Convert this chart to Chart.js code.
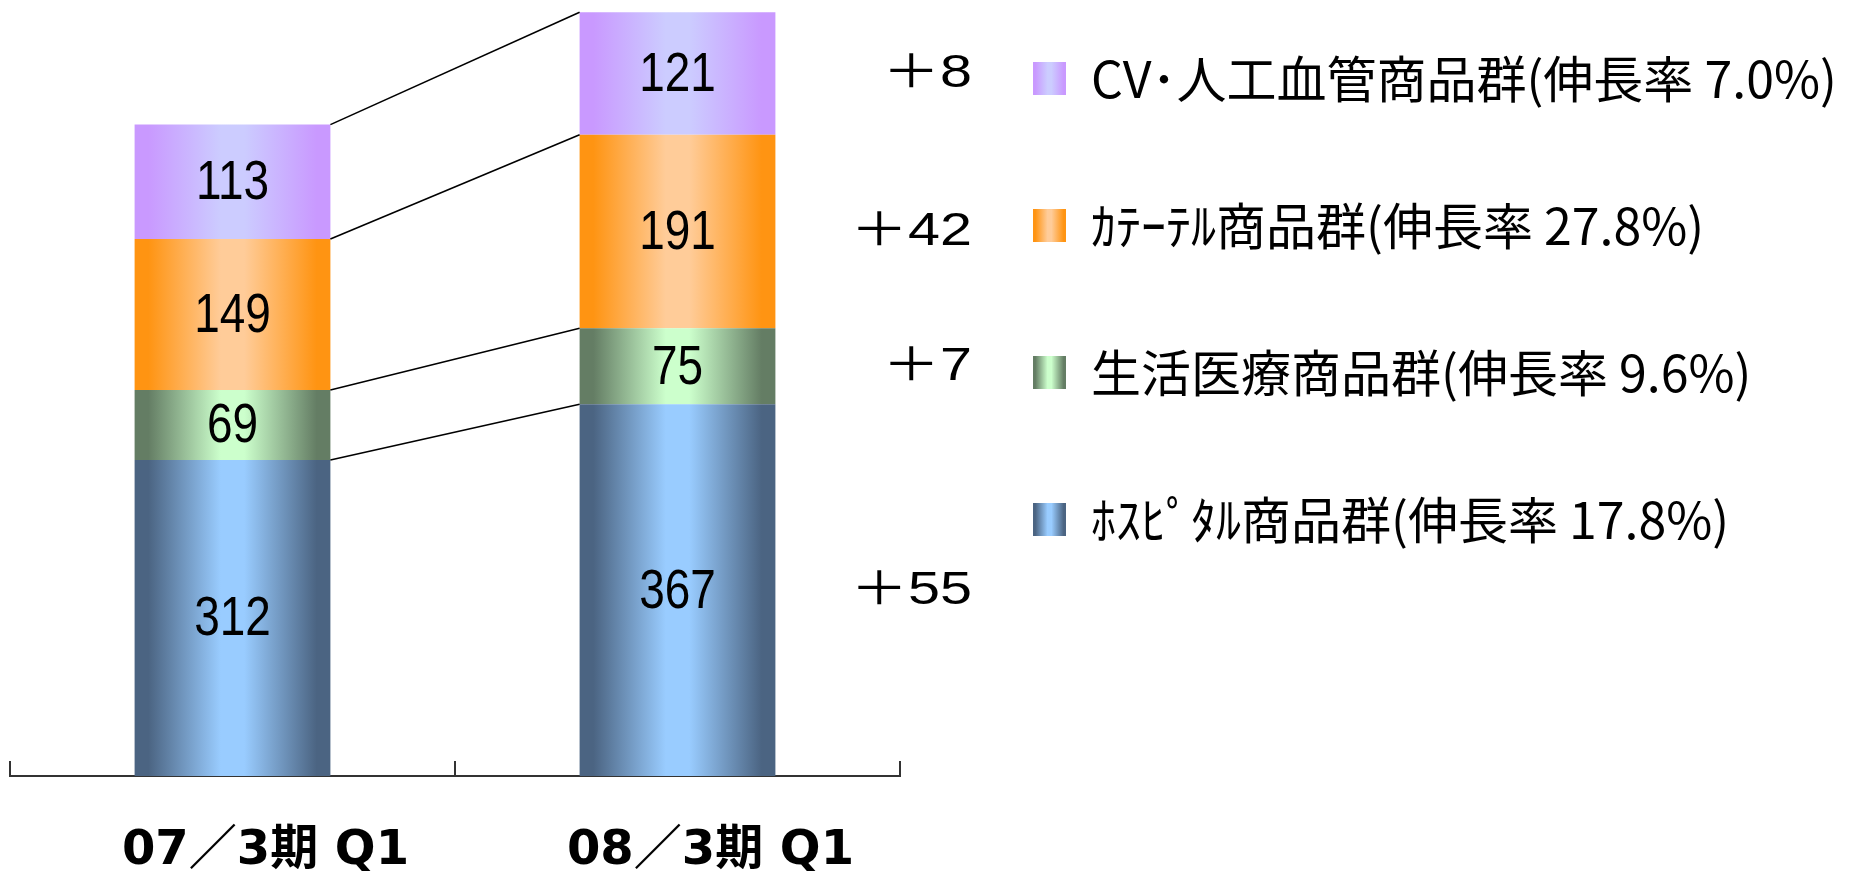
<!DOCTYPE html>
<html>
<head>
<meta charset="utf-8">
<script src="https://cdn.jsdelivr.net/npm/chart.js@4"></script>
<style>
html, body { margin: 0; padding: 0; background: #fff; overflow: hidden; }
#wrap { width: 1851px; height: 879px; position: relative; }
</style>
</head>
<body>
<div id="wrap"><canvas id="c"></canvas></div>
<script>
// ---- data ----
const categories = ['07／3期 Q1', '08／3期 Q1'];
const seriesNames = [
  'ﾎｽﾋﾟﾀﾙ商品群(伸長率 17.8%)',
  '生活医療商品群(伸長率 9.6%)',
  'ｶﾃｰﾃﾙ商品群(伸長率 27.8%)',
  'CV･人工血管商品群(伸長率 7.0%)'
];
const hospitalValues = [312, 367];
const lifeCareValues = [69, 75];
const catheterValues = [149, 191];
const cvValues = [113, 121];
const changeLabels = ['＋55', '＋7', '＋42', '＋8'];

// ---- styles ----
const edgeColors = ['#4b6482', '#647d64', '#ff9412', '#c999ff'];
const centerColors = ['#99ccff', '#ccffcc', '#ffcc99', '#ccccff'];
const CAT_PCT = 0.44, BAR_PCT = 1.0;
const LEGEND_LEFT = 936;

function hGrad(ctx, x0, x1, edge, center) {
  const g = ctx.createLinearGradient(x0, 0, x1, 0);
  g.addColorStop(0, edge);
  g.addColorStop(0.07, edge);
  g.addColorStop(0.44, center);
  g.addColorStop(0.56, center);
  g.addColorStop(0.93, edge);
  g.addColorStop(1, edge);
  return g;
}

function barColor(i) {
  return (c) => {
    const chart = c.chart;
    const xs = chart.scales && chart.scales.x;
    if (!xs || c.type !== 'data' || xs.right === undefined) return centerColors[i];
    const cw = (xs.right - xs.left) / categories.length;
    const w = cw * CAT_PCT * BAR_PCT;
    const cx = xs.getPixelForValue(c.dataIndex);
    return hGrad(chart.ctx, cx - w / 2, cx + w / 2, edgeColors[i], centerColors[i]);
  };
}

const seriesValues = [hospitalValues, lifeCareValues, catheterValues, cvValues];

function drawScaledText(ctx, text, x, y, sx) {
  ctx.save();
  ctx.translate(x, y);
  ctx.scale(sx, 1);
  ctx.fillText(text, 0, 0);
  ctx.restore();
}

const overlay = {
  id: 'overlay',
  afterUpdate(chart) {
    const lg = chart.legend;
    if (!lg || !lg.legendItems) return;
    const bx = lg.left + lg.options.labels.padding;
    const bw = lg.options.labels.boxWidth;
    lg.legendItems.forEach((it) => {
      const i = it.datasetIndex;
      it.fillStyle = hGrad(chart.ctx, bx, bx + bw, edgeColors[i], centerColors[i]);
      it.lineWidth = 0;
    });
  },
  afterDatasetsDraw(chart) {
    const ctx = chart.ctx;
    const metas = chart.data.datasets.map((d, i) => chart.getDatasetMeta(i));
    ctx.save();
    // connector lines between segment tops
    ctx.strokeStyle = '#000';
    ctx.lineWidth = 1.6;
    metas.forEach((m) => {
      const a = m.data[0], b = m.data[1];
      ctx.beginPath();
      ctx.moveTo(a.x + a.width / 2, a.y);
      ctx.lineTo(b.x - b.width / 2, b.y);
      ctx.stroke();
    });
    // value labels inside segments
    ctx.fillStyle = '#000';
    ctx.textAlign = 'center';
    ctx.textBaseline = 'middle';
    ctx.font = '56px "Liberation Sans", sans-serif';
    metas.forEach((m, i) => {
      m.data.forEach((el, j) => {
        drawScaledText(ctx, String(chart.data.datasets[i].data[j]), el.x, (el.y + el.base) / 2 + 2, 0.82);
      });
    });
    // change labels to the right of the second bar
    ctx.font = '46px "Liberation Sans", "Noto Sans CJK JP", sans-serif';
    ctx.textAlign = 'right';
    metas.forEach((m, i) => {
      const el = m.data[1];
      drawScaledText(ctx, changeLabels[i], chart.chartArea.right + 72, (el.y + el.base) / 2 + 1, 1.25);
    });
    ctx.restore();
  }
};

Chart.defaults.color = '#000';

const chart = new Chart(document.getElementById('c'), {
  type: 'bar',
  data: {
    labels: categories,
    datasets: seriesValues.map((vals, i) => ({
      label: seriesNames[i],
      data: vals,
      backgroundColor: barColor(i),
      borderWidth: 0,
      categoryPercentage: CAT_PCT,
      barPercentage: BAR_PCT
    }))
  },
  options: {
    responsive: true,
    maintainAspectRatio: false,
    animation: false,
    layout: { padding: { top: -43.5, left: 10, right: 0, bottom: 0 } },
    plugins: {
      tooltip: { enabled: false },
      legend: {
        position: 'right',
        align: 'start',
        reverse: true,
        labels: {
          boxWidth: 33,
          boxHeight: 33,
          padding: 97,
          color: '#000',
          font: { family: '"Noto Sans CJK JP", sans-serif', size: 50 }
        }
      }
    },
    scales: {
      x: {
        stacked: true,
        grid: { display: true, offset: true, drawOnChartArea: false, drawTicks: true, tickLength: -15, color: '#333', lineWidth: 2 },
        border: { display: true, color: '#333', width: 2 },
        ticks: {
          color: '#000',
          font: { family: '"DejaVu Sans", "Noto Sans CJK JP", sans-serif', size: 48, weight: 'bold' },
          padding: 62,
          labelOffset: 33,
          maxRotation: 0,
          autoSkip: false
        },
        afterFit: (s) => { s.height = 103; }
      },
      y: { stacked: true, display: false, min: 0, max: 766 },
      y2: {
        position: 'right',
        display: true,
        grid: { display: false },
        border: { display: false },
        ticks: { display: false },
        afterFit: (s) => { s.width = 36; }
      }
    }
  },
  plugins: [overlay]
});

// legend occupies the band from LEGEND_LEFT to the right edge
const lg = chart.legend;
const origFit = lg.fit;
lg.fit = function () {
  origFit.call(this);
  this.width = chart.width - LEGEND_LEFT;
};
chart.update();
</script>
</body>
</html>
